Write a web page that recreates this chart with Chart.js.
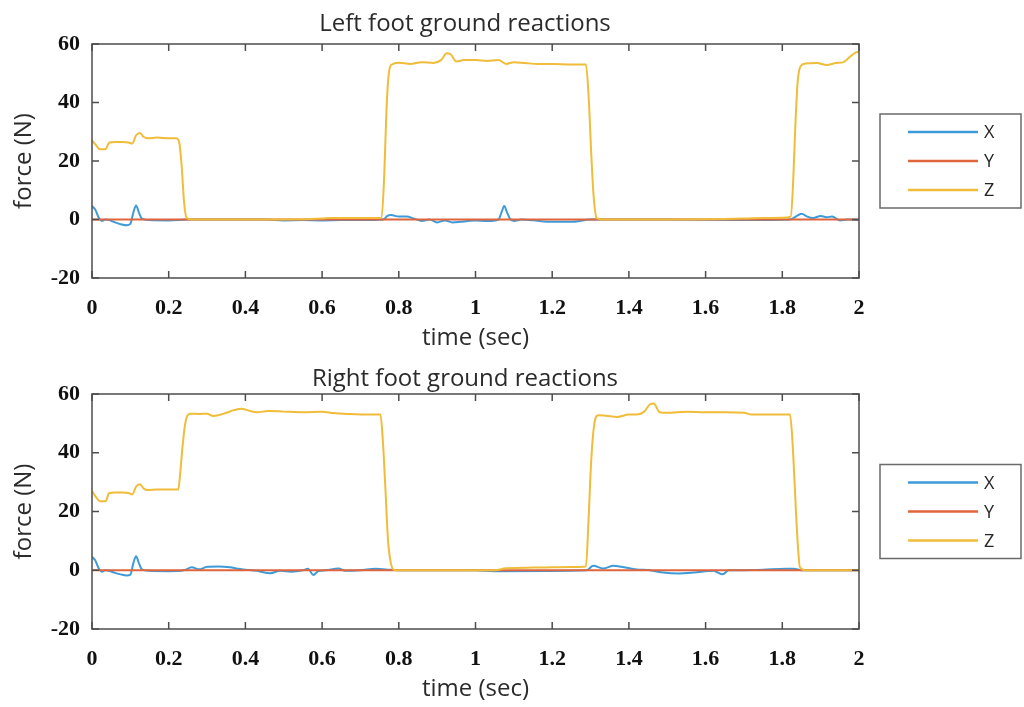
<!DOCTYPE html>
<html>
<head>
<meta charset="utf-8">
<script src="https://cdn.jsdelivr.net/npm/chart.js@4/dist/chart.umd.min.js"></script>
<style>
  body { margin: 0; background: #fff; }
  #wrap { position: relative; width: 1024px; height: 707px; }
  canvas { position: absolute; left: 0; }
  #left { top: 0; }
  #right { top: 353px; }
</style>
</head>
<body>
<div id="wrap">
  <canvas id="left" width="1024" height="353"></canvas>
  <canvas id="right" width="1024" height="354"></canvas>
</div>
<script>
// axis ticks
var xTicks = [0, 0.2, 0.4, 0.6, 0.8, 1, 1.2, 1.4, 1.6, 1.8, 2];
var xTickLabels = ['0', '0.2', '0.4', '0.6', '0.8', '1', '1.2', '1.4', '1.6', '1.8', '2'];
var yTicks = [-20, 0, 20, 40, 60];
var yTickLabels = ['-20', '0', '20', '40', '60'];
var seriesNames = ['X', 'Y', 'Z'];

// left foot
var tXL = [0, 0.008, 0.018, 0.026, 0.035, 0.045, 0.06, 0.075, 0.09, 0.1, 0.108, 0.115, 0.122, 0.13, 0.15, 0.2, 0.25, 0.3, 0.45, 0.5, 0.55, 0.6, 0.65, 0.7, 0.76, 0.77, 0.78, 0.8, 0.82, 0.84, 0.86, 0.88, 0.9, 0.92, 0.94, 0.96, 0.98, 1.0, 1.03, 1.06, 1.068, 1.075, 1.082, 1.09, 1.1, 1.12, 1.15, 1.2, 1.25, 1.3, 1.5, 1.7, 1.82, 1.835, 1.85, 1.865, 1.88, 1.9, 1.915, 1.93, 1.95, 1.97, 2];
var xL = [4.5, 3.5, 0.5, -0.5, 0, -0.2, -1, -1.6, -2, -1.5, 2.5, 4.8, 2.5, 0.3, -0.2, -0.3, 0, 0, 0, -0.3, -0.2, -0.3, -0.2, -0.2, 0, 1.2, 1.5, 1, 1, 0.3, -0.5, 0, -1, -0.3, -1, -0.8, -0.5, -0.3, -0.5, 0, 2.5, 4.6, 2.5, 0.2, -0.5, 0, -0.3, -0.8, -0.8, 0, 0, -0.2, 0, 1, 2, 1, 0.5, 1.2, 0.8, 1, -0.3, 0, -0.2];
var tYL = [0, 2];
var yL = [0, 0];
var tZL = [0, 0.01, 0.02, 0.035, 0.045, 0.06, 0.08, 0.095, 0.105, 0.115, 0.125, 0.135, 0.145, 0.17, 0.2, 0.22, 0.228, 0.234, 0.24, 0.247, 0.26, 0.4, 0.5, 0.6, 0.62, 0.7, 0.755, 0.762, 0.768, 0.774, 0.782, 0.8, 0.83, 0.86, 0.89, 0.91, 0.925, 0.935, 0.95, 0.97, 1.0, 1.03, 1.06, 1.08, 1.1, 1.13, 1.16, 1.2, 1.25, 1.288, 1.295, 1.302, 1.308, 1.316, 1.33, 1.5, 1.7, 1.75, 1.8, 1.822, 1.828, 1.834, 1.84, 1.848, 1.86, 1.89, 1.916, 1.94, 1.96, 1.975, 1.99, 2];
var zL = [27, 25.5, 24, 24, 26.3, 26.5, 26.5, 26.3, 26, 28.8, 29.6, 28.2, 27.8, 28, 27.8, 27.8, 26, 18, 6, 0.5, 0, 0, 0, 0.3, 0.5, 0.5, 0.6, 15, 38, 50, 53, 53.6, 53.2, 53.8, 53.5, 54.5, 56.8, 56.5, 54, 54.5, 54.5, 54.2, 54.5, 53.2, 53.8, 53.5, 53.2, 53.2, 53, 53, 42, 22, 8, 0.5, 0, 0, 0.3, 0.5, 0.6, 1, 12, 32, 47, 52.5, 53.3, 53.5, 52.8, 53.5, 53.8, 55.5, 57, 57.3];

// right foot
var tXR = [0, 0.008, 0.018, 0.026, 0.035, 0.045, 0.06, 0.075, 0.09, 0.1, 0.108, 0.115, 0.122, 0.13, 0.15, 0.2, 0.24, 0.26, 0.28, 0.3, 0.33, 0.36, 0.38, 0.4, 0.43, 0.465, 0.49, 0.52, 0.55, 0.563, 0.577, 0.59, 0.61, 0.643, 0.66, 0.7, 0.74, 0.77, 0.8, 1.0, 1.05, 1.29, 1.307, 1.333, 1.36, 1.38, 1.42, 1.455, 1.49, 1.53, 1.57, 1.62, 1.645, 1.66, 1.7, 1.75, 1.81, 1.83, 1.85, 2];
var xR = [4.5, 3.5, 0.5, -0.5, 0, -0.2, -0.9, -1.4, -1.8, -1.5, 2.5, 4.8, 2.5, 0.3, -0.2, -0.3, 0, 1, 0.3, 1.2, 1.3, 1, 0.5, 0.2, -0.2, -1, -0.2, -0.5, 0, 0.5, -1.6, -0.3, 0, 0.6, -0.2, 0, 0.5, 0.2, 0, 0, -0.3, 0, 1.5, 0.6, 1.5, 1.2, 0.3, 0, -0.8, -1.1, -0.8, -0.2, -1.4, 0, 0, 0.2, 0.5, 0.5, 0, 0];
var tYR = [0, 2];
var yR = [0, 0];
var tZR = [0, 0.01, 0.02, 0.035, 0.045, 0.06, 0.08, 0.095, 0.105, 0.115, 0.125, 0.135, 0.145, 0.17, 0.2, 0.225, 0.23, 0.236, 0.242, 0.248, 0.256, 0.28, 0.3, 0.316, 0.33, 0.35, 0.37, 0.39, 0.41, 0.43, 0.46, 0.5, 0.55, 0.6, 0.63, 0.67, 0.72, 0.752, 0.758, 0.765, 0.772, 0.78, 0.79, 0.9, 1.05, 1.08, 1.15, 1.2, 1.25, 1.288, 1.295, 1.302, 1.31, 1.32, 1.34, 1.37, 1.4, 1.42, 1.44, 1.455, 1.465, 1.48, 1.5, 1.55, 1.6, 1.65, 1.7, 1.72, 1.77, 1.82, 1.826, 1.832, 1.838, 1.846, 1.86, 2];
var zR = [27, 25, 23.5, 23.5, 26.3, 26.5, 26.5, 26.3, 25.8, 28.5, 29.3, 27.8, 27.3, 27.5, 27.5, 27.5, 33, 42, 49, 52.5, 53.3, 53.2, 53.3, 52.5, 52.8, 53.6, 54.5, 55, 54.3, 53.8, 54.2, 54, 53.8, 54, 53.5, 53.2, 53, 53, 45, 28, 10, 2, 0, 0, 0, 0.7, 0.9, 1, 1.1, 1.3, 18, 38, 50, 52.8, 52.6, 52.2, 53, 53, 54, 56.5, 56.8, 53.8, 53.6, 54, 53.8, 53.8, 53.6, 53, 53, 53, 45, 30, 14, 1, 0, 0];

var colors = ['#3e9ad8', '#e0653c', '#f0bc3a'];

function pts(t, v) {
    return t.map(function (tt, i) { return { x: tt, y: v[i] }; });
}

var frame = {
    id: 'frame',
    afterDatasetsDraw: function (chart) {
        var ctx = chart.ctx, a = chart.chartArea;
        var sx = chart.scales.x, sy = chart.scales.y;
        ctx.save();
        ctx.strokeStyle = '#4d4d4d';
        ctx.lineWidth = 1.5;
        ctx.strokeRect(a.left, a.top, a.right - a.left, a.bottom - a.top);
        ctx.beginPath();
        xTicks.forEach(function (v) {
            var px = sx.getPixelForValue(v);
            ctx.moveTo(px, a.bottom); ctx.lineTo(px, a.bottom - 7);
            ctx.moveTo(px, a.top); ctx.lineTo(px, a.top + 7);
        });
        yTicks.forEach(function (v) {
            var py = sy.getPixelForValue(v);
            ctx.moveTo(a.left, py); ctx.lineTo(a.left + 7, py);
            ctx.moveTo(a.right, py); ctx.lineTo(a.right - 7, py);
        });
        ctx.stroke();

        // title
        var o = chart.options.plugins.frame;
        ctx.font = '24px "Open Sans"';
        ctx.fillStyle = '#2b2b2b';
        ctx.textAlign = 'center';
        ctx.textBaseline = 'alphabetic';
        ctx.fillText(o.title, 465, o.titleY);

        // legend box on the right
        var cy = (a.top + a.bottom) / 2;
        var bx = a.right + 21, bw = 141, bh = 94;
        ctx.strokeStyle = '#6a6a6a';
        ctx.lineWidth = 1.5;
        ctx.strokeRect(bx, cy - bh / 2, bw, bh);
        ctx.font = '18px "Open Sans"';
        ctx.textAlign = 'left';
        ctx.textBaseline = 'middle';
        ctx.fillStyle = '#262626';
        chart.data.datasets.forEach(function (ds, i) {
            var ry = cy - 29 + i * 29;
            ctx.strokeStyle = ds.borderColor;
            ctx.lineWidth = 2.5;
            ctx.beginPath();
            ctx.moveTo(bx + 28, ry); ctx.lineTo(bx + 98, ry);
            ctx.stroke();
            ctx.fillText(ds.label, bx + 104, ry + 1);
        });
        ctx.restore();
    }
};

function makeChart(id, title, data, top, titleY, xHeight, xTitlePad) {
    var sets = data.map(function (d, i) {
        return {
            label: seriesNames[i],
            data: d,
            borderColor: colors[i],
            borderWidth: 2,
            pointRadius: 0,
            cubicInterpolationMode: 'monotone',
            order: 2 - i
        };
    });
    return new Chart(document.getElementById(id), {
        type: 'line',
        data: { datasets: sets },
        plugins: [frame],
        options: {
            responsive: false,
            animation: false,
            devicePixelRatio: 1,
            layout: { padding: { left: 0, right: 165, top: top, bottom: 0 } },
            plugins: {
                legend: { display: false },
                tooltip: { enabled: false },
                title: { display: false },
                frame: { title: title, titleY: titleY }
            },
            scales: {
                x: {
                    type: 'linear',
                    min: 0, max: 2,
                    grid: { display: false, drawTicks: false },
                    border: { display: false },
                    afterBuildTicks: function (s) { s.ticks = xTicks.map(function (v) { return { value: v }; }); },
                    afterFit: function (s) { s.height = xHeight; },
                    ticks: {
                        padding: 17,
                        maxRotation: 0,
                        autoSkip: false,
                        color: '#111',
                        font: { family: 'Liberation Serif', size: 22, weight: 'bold' },
                        callback: function (v, i) { return xTickLabels[i]; }
                    },
                    title: {
                        display: true,
                        text: 'time (sec)',
                        color: '#2b2b2b',
                        font: { family: 'Open Sans', size: 24, lineHeight: 1.2 },
                        padding: { top: 0, bottom: xTitlePad }
                    }
                },
                y: {
                    min: -20, max: 60,
                    grid: { display: false, drawTicks: false },
                    border: { display: false },
                    afterBuildTicks: function (s) { s.ticks = yTicks.map(function (v) { return { value: v }; }); },
                    afterFit: function (s) { s.width = 92; },
                    ticks: {
                        padding: 12,
                        color: '#111',
                        font: { family: 'Liberation Serif', size: 22, weight: 'bold' },
                        callback: function (v, i) { return yTickLabels[i]; }
                    },
                    title: {
                        display: true,
                        text: 'force (N)',
                        color: '#2b2b2b',
                        font: { family: 'Open Sans', size: 24, lineHeight: 1.2 },
                        padding: { top: 10, bottom: 0 }
                    }
                }
            }
        }
    });
}

makeChart('left', 'Left foot ground reactions',
    [pts(tXL, xL), pts(tYL, yL), pts(tZL, zL)],
    44, 31, 75, 0);
makeChart('right', 'Right foot ground reactions',
    [pts(tXR, xR), pts(tYR, yR), pts(tZR, zR)],
    41, 33, 78, 3);
</script>
</body>
</html>
